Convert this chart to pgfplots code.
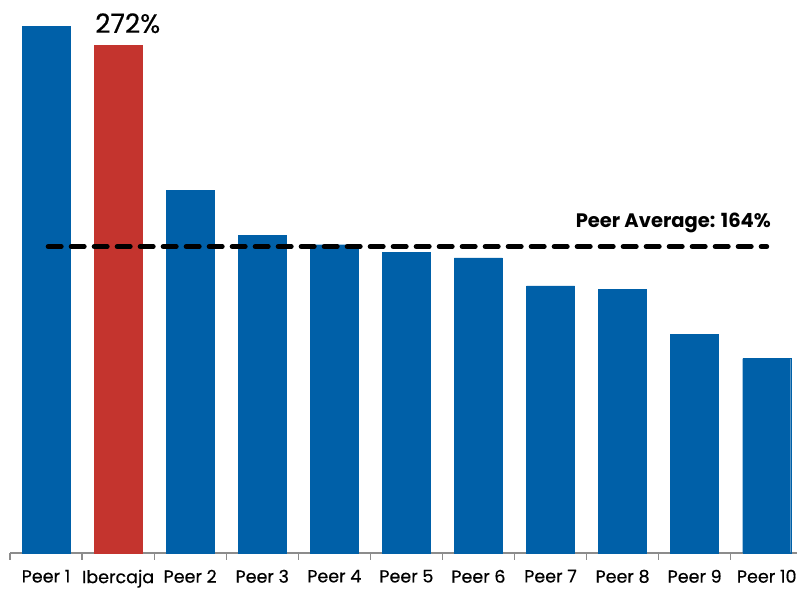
\documentclass[border=0pt]{standalone}
\usepackage{pgfplots}
\pgfplotsset{compat=1.18}
\usepackage{fontspec}
\setmainfont{Poppins}
\newfontfamily\medfont[FakeBold=0.5]{Poppins}
\definecolor{barblue}{HTML}{0060A8}
\definecolor{barred}{HTML}{C4342E}
\definecolor{axisgray}{HTML}{8C8C8C}
\begin{document}
\begin{tikzpicture}
\begin{axis}[
  scale only axis,
  width=787pt, height=553pt,
  xmin=-0.5, xmax=10.42,
  ymin=0, ymax=296,
  axis x line=bottom, axis y line=none,
  x axis line style={axisgray, line width=1.5pt, -},
  xtick={0,...,10},
  xticklabels={Peer 1,Ibercaja,Peer 2,Peer 3,Peer 4,Peer 5,Peer 6,Peer 7,Peer 8,Peer 9,Peer 10},
  major x tick style={draw=none},
  minor xtick={-0.5,0.5,...,9.5},
  minor x tick style={axisgray, line width=1.2pt},
  minor tick length=7pt,
  tick align=outside,
  xticklabel style={font=\medfont\fontsize{17.5}{20}\selectfont, yshift=-9pt},
  ybar, bar width=48pt,
  clip=false,
]
\addplot[barblue, fill=barblue, bar shift=0pt] coordinates {
  (0,282) (2,194) (3,170) (4,165) (5,161) (6,158) (7,143) (8,141) (9,117) (10,104)};
\addplot[barred, fill=barred, bar shift=0pt] coordinates {(1,272)};
\addplot[sharp plot, black, line width=5pt, line cap=round, dash pattern=on 13pt off 10pt]
  coordinates {(0.03,164) (10,164)};
\node[anchor=base west, inner sep=0pt, font=\medfont\fontsize{26.5}{30}\selectfont] at (axis cs:0.68,278.4) {272\%};
\node[anchor=base east, inner sep=0pt, font=\fontsize{19.5}{22}\selectfont\bfseries] at (axis cs:10.06,174) {Peer Average: 164\%};
\end{axis}
\useasboundingbox (current axis.south west) ++(-10pt,-36pt) rectangle ++(800pt,589pt);
\end{tikzpicture}
\end{document}
